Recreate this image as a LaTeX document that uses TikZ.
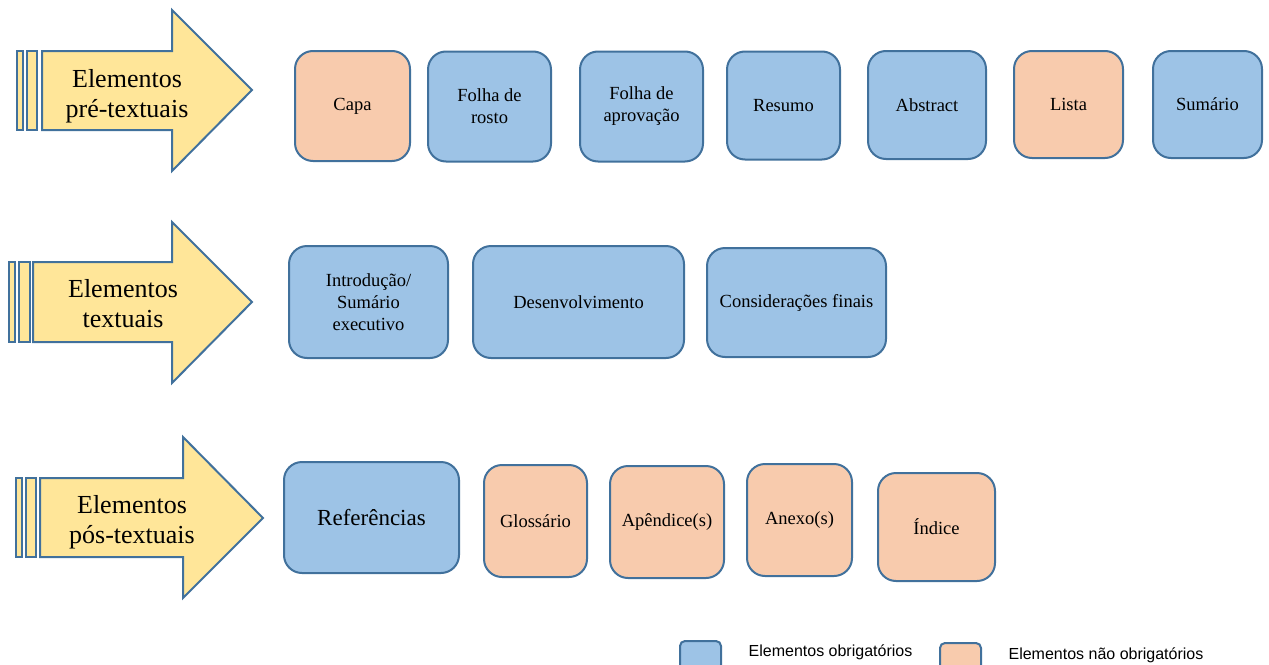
\documentclass[tikz,border=0pt]{standalone}
\usepackage{fontspec}
\setmainfont{Liberation Serif}
\newfontfamily\legendfont{Liberation Sans}
\definecolor{bluefill}{HTML}{9DC3E6}
\definecolor{orangefill}{HTML}{F8CBAD}
\definecolor{edgecol}{HTML}{41719C}
\definecolor{arrowfill}{HTML}{FFE699}
\tikzset{
  elbox/.style={rounded corners=18pt, draw=edgecol, line width=2pt, align=center, inner sep=0pt,
    font=\fontsize{18.5}{22}\selectfont},
  reqbox/.style={elbox, fill=bluefill},
  optbox/.style={elbox, fill=orangefill},
  bigarrow/.style={draw=edgecol, line width=2pt, fill=arrowfill, line join=miter},
  arrowtext/.style={align=center, inner sep=0pt, font=\fontsize{26}{30}\selectfont},
  legbox/.style={rounded corners=5pt, draw=edgecol, line width=2pt},
  legtext/.style={inner sep=0pt, font=\legendfont\fontsize{16}{19}\selectfont}
}
\begin{document}
\begin{tikzpicture}[x=1pt,y=-1pt]
\useasboundingbox (0,0) rectangle (1269,664);
\fill[white] (0,0) rectangle (1269,664);

% Arrow 1
\draw[bigarrow] (17,51) rectangle (23,130);
\draw[bigarrow] (27,51) rectangle (37,130);
\draw[bigarrow] (42,51) -- (172,51) -- (172,10) -- (252,90) -- (172,171) -- (172,130) -- (42,130) -- cycle;
\node[arrowtext] (a1) at (127,96) {Elementos\\pré-textuais};

% Arrow 2
\draw[bigarrow] (9,262) rectangle (15,342);
\draw[bigarrow] (19,262) rectangle (30,342);
\draw[bigarrow] (33,262) -- (172,262) -- (172,222) -- (252,302) -- (172,383) -- (172,342) -- (33,342) -- cycle;
\node[arrowtext] (a2) at (123,304) {Elementos\\textuais};

% Arrow 3
\draw[bigarrow] (16,478) rectangle (22,557);
\draw[bigarrow] (26,478) rectangle (36,557);
\draw[bigarrow] (40,478) -- (183,478) -- (183,437) -- (263,518) -- (183,598) -- (183,557) -- (40,557) -- cycle;
\node[arrowtext] (a3) at (132,522) {Elementos\\pós-textuais};

% Row 1
\node[optbox, minimum width=115pt, minimum height=110pt] (capa) at (352.5,106) {Capa};
\node[reqbox, minimum width=123pt, minimum height=110pt] (rosto) at (489.5,106.5) {Folha de\\rosto};
\node[reqbox, minimum width=123pt, minimum height=110pt] (aprov) at (641.5,106.5) {Folha de\\aprovação};
\node[reqbox, minimum width=113pt, minimum height=108pt] (resumo) at (783.5,105.5) {Resumo};
\node[reqbox, minimum width=118pt, minimum height=108pt] (abstract) at (927,105) {Abstract};
\node[optbox, minimum width=109pt, minimum height=107pt] (lista) at (1068.5,104.5) {Lista};
\node[reqbox, minimum width=109pt, minimum height=107pt] (sumario) at (1207.5,104.5) {Sumário};

% Row 2
\node[reqbox, minimum width=159pt, minimum height=112pt] (intro) at (368.5,302) {Introdução/\\Sumário\\executivo};
\node[reqbox, minimum width=211pt, minimum height=112pt] (desenv) at (578.5,302) {Desenvolvimento};
\node[reqbox, minimum width=179pt, minimum height=109pt] (consid) at (796.5,302.5) {Considerações finais};

% Row 3
\node[reqbox, minimum width=175pt, minimum height=111pt, font=\fontsize{23}{27}\selectfont] (refs) at (371.5,517.5) {Referências};
\node[optbox, minimum width=103pt, minimum height=112pt] (gloss) at (535.5,521) {Glossário};
\node[optbox, minimum width=114pt, minimum height=112pt] (apend) at (667,522) {Apêndice(s)};
\node[optbox, minimum width=105pt, minimum height=112pt] (anexo) at (799.5,520) {Anexo(s)};
\node[optbox, minimum width=117pt, minimum height=108pt] (indice) at (936.5,527) {Índice};

% Legend
\draw[legbox, fill=bluefill] (680,641) rectangle (721,670);
\node[legtext] (legreq) at (830.5,652) {Elementos obrigatórios};
\draw[legbox, fill=orangefill] (940,643) rectangle (981,670);
\node[legtext] (legopt) at (1106,655) {Elementos não obrigatórios};
\end{tikzpicture}
\end{document}
